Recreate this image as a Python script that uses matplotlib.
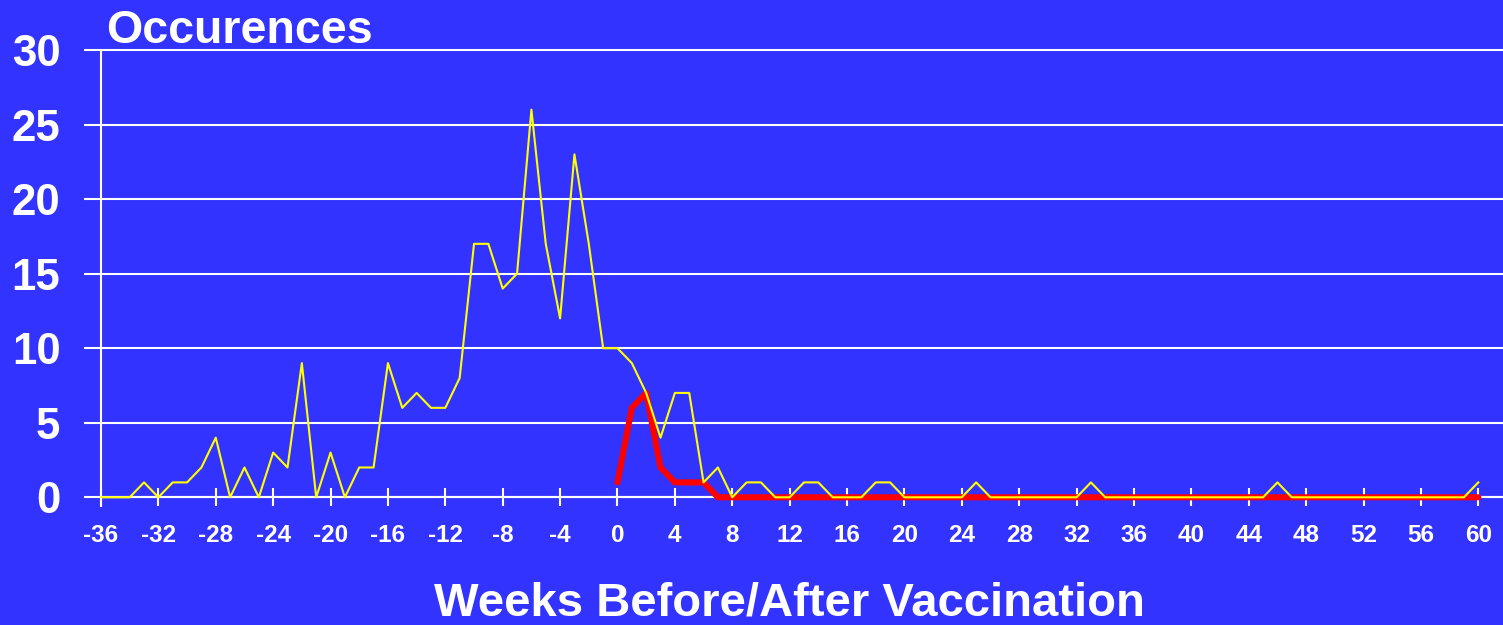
import matplotlib
matplotlib.use("Agg")
import matplotlib.pyplot as plt

# ---- data ----
weeks_all = list(range(-36, 61))
occ_all = [0, 0, 0, 1, 0, 1, 1, 2, 4, 0,
           2, 0, 3, 2, 9, 0, 3, 0, 2, 2,
           9, 6, 7, 6, 6, 8, 17, 17, 14, 15,
           26, 17, 12, 23, 17, 10, 10, 9, 7, 4,
           7, 7, 1, 2, 0, 1, 1, 0, 0, 1,
           1, 0, 0, 0, 1, 1, 0, 0, 0, 0,
           0, 1, 0, 0, 0, 0, 0, 0, 0, 1,
           0, 0, 0, 0, 0, 0, 0, 0, 0, 0,
           0, 0, 1, 0, 0, 0, 0, 0, 0, 0,
           0, 0, 0, 0, 0, 0, 1]
weeks_post = list(range(0, 61))
occ_post = [1, 6, 7, 2, 1, 1, 1, 0, 0, 0,
            0, 0, 0, 0, 0, 0, 0, 0, 0, 0,
            0, 0, 0, 0, 0, 0, 0, 0, 0, 0,
            0, 0, 0, 0, 0, 0, 0, 0, 0, 0,
            0, 0, 0, 0, 0, 0, 0, 0, 0, 0,
            0, 0, 0, 0, 0, 0, 0, 0, 0, 0,
            0]
x_ticks = list(range(-36, 61, 4))
y_ticks = [0, 5, 10, 15, 20, 25, 30]

BG = "#3333FF"
FONT = ["Liberation Sans", "DejaVu Sans"]
plt.rcParams['font.family'] = FONT

W, H = 1503, 625
fig = plt.figure(figsize=(W / 100, H / 100), dpi=100, facecolor=BG)

left_px, right_px = 101, 1503
y0_px, y30_px = 497.3, 50.0
ppu = (y0_px - y30_px) / 30
ymin, ymax = -0.6, 30.25
bottom_px = y0_px - ymin * ppu
top_px = y0_px - ymax * ppu
ax = fig.add_axes([left_px / W, (H - bottom_px) / H,
                   (right_px - left_px) / W, (bottom_px - top_px) / H])
ax.set_facecolor(BG)

xppu = (1478.3 - 101) / 96
ax.set_xlim(-36, -36 + (right_px - left_px) / xppu)
ax.set_ylim(ymin, ymax)

ax.plot(weeks_post, occ_post, color="#FF0000", lw=4.4,
        solid_joinstyle="round", solid_capstyle="round", zorder=3, clip_on=False)
ax.plot(weeks_all, occ_all, color="#FFFF00", lw=1.5, zorder=4, clip_on=False)

for s in ["top", "right"]:
    ax.spines[s].set_visible(False)
ax.spines["left"].set_color("white")
ax.spines["left"].set_linewidth(1.5)
ax.spines["left"].set_bounds(ymin, 30)
ax.spines["bottom"].set_position(("data", 0))
ax.spines["bottom"].set_color("white")
ax.spines["bottom"].set_linewidth(1.5)

ax.set_yticks(y_ticks)
ax.set_xticks(x_ticks)
ax.set_xticklabels([str(v) for v in x_ticks])
ax.yaxis.grid(True, color="white", lw=1.5)
ax.set_axisbelow(True)

ax.tick_params(axis="y", direction="out", length=12.2, width=1.5, color="white",
               labelcolor="white", labelsize=31.5, pad=17)
ax.tick_params(axis="x", direction="inout", length=13, width=1.5, color="white",
               labelcolor="white", labelsize=17.5, pad=13)
for lab in ax.get_xticklabels() + ax.get_yticklabels():
    lab.set_fontweight("bold")

fig.text(106 / W, (H - 43) / H, "Occurences", color="white", fontsize=33.5,
         fontweight="bold", ha="left", va="baseline")
fig.text(789.5 / W, (H - 615) / H, "Weeks Before/After Vaccination", color="white",
         fontsize=34, fontweight="bold", ha="center", va="baseline")

fig.savefig("out.png", dpi=100, facecolor=BG)
